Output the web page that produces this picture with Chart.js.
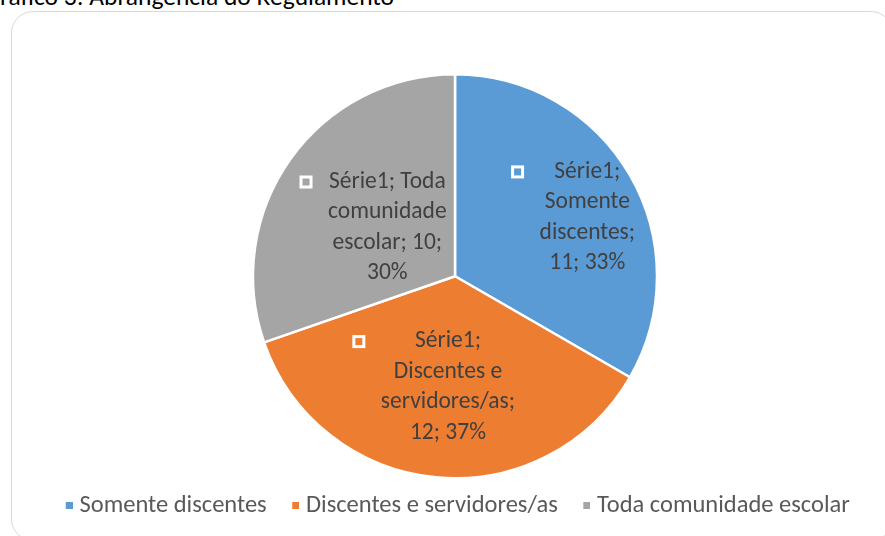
<!DOCTYPE html>
<html><head><meta charset="utf-8">
<script src="https://cdn.jsdelivr.net/npm/chart.js@4"></script>
<style>
html,body{margin:0;padding:0;background:#fff;width:885px;height:536px;overflow:hidden;position:relative}
#title{position:absolute;left:-16px;top:-16px;font-size:25.5px;line-height:26px;font-family:Carlito, Lato, sans-serif;color:#000;white-space:nowrap}
#frame{position:absolute;left:11px;top:11px;width:882px;height:530px;border:1.5px solid #d9d9d9;border-radius:22px;box-sizing:border-box}
#wrap{position:absolute;left:0;top:0;width:885px;height:536px}
</style></head><body>
<div id="title">Gráfico 3: Abrangência do Regulamento</div>
<div id="frame"></div>
<div id="wrap"><canvas id="c" width="885" height="536"></canvas></div>
<script>
const seriesName = 'Série1';
const categories = ['Somente discentes', 'Discentes e servidores/as', 'Toda comunidade escolar'];
const values = [11, 12, 10];
const percentLabels = ['33%', '37%', '30%'];
const colors = ['#5B9BD5', '#ED7D31', '#A5A5A5'];
// words per wrapped line of each data label
const wrapCounts = [[1, 1, 1, 2], [1, 2, 1, 2], [2, 1, 2, 1]];
// label block centre, as a fraction of the pie radius from the pie centre
const labelAnchors = [[0.655, -0.29], [-0.035, 0.55], [-0.335, -0.24]];

const FONT = 'Carlito, Lato, sans-serif';
const LABEL_SIZE = 23.5;

function labelLines(i) {
  const words = `${seriesName}; ${categories[i]}; ${values[i]}; ${percentLabels[i]}`.split(' ');
  const out = []; let k = 0;
  for (const n of wrapCounts[i]) { out.push(words.slice(k, k + n).join(' ')); k += n; }
  return out;
}

// legend key: small square placed close to its text
function legendKey(color) {
  const c = document.createElement('canvas');
  c.width = 18; c.height = 7;
  const g = c.getContext('2d');
  g.fillStyle = color;
  g.fillRect(11, 0, 7, 7);
  return c;
}
const legendKeys = colors.map(legendKey);

const dataLabelPlugin = {
  id: 'excelLabels',
  afterDatasetsDraw(chart) {
    const ctx = chart.ctx;
    const meta = chart.getDatasetMeta(0);
    ctx.save();
    ctx.font = `${LABEL_SIZE}px ${FONT}`;
    ctx.textAlign = 'center';
    ctx.textBaseline = 'middle';
    const lh = 30.5;
    meta.data.forEach((arc, i) => {
      const lines = labelLines(i);
      const R = arc.outerRadius;
      const cx = arc.x + labelAnchors[i][0] * R;
      const cy = arc.y + labelAnchors[i][1] * R;
      const top = cy - (lines.length - 1) * lh / 2;
      let maxW = 0;
      lines.forEach(l => { maxW = Math.max(maxW, ctx.measureText(l).width); });
      ctx.fillStyle = '#404040';
      lines.forEach((l, j) => ctx.fillText(l, cx, top + j * lh));
      const mx = cx - maxW / 2 - 22, my = top;
      ctx.fillStyle = '#ffffff';
      ctx.fillRect(mx - 6.5, my - 6.5, 13, 13);
      ctx.fillStyle = colors[i];
      ctx.fillRect(mx - 3.5, my - 3.5, 7, 7);
    });
    ctx.restore();
  }
};

new Chart(document.getElementById('c'), {
  type: 'pie',
  data: {
    labels: categories,
    datasets: [{
      data: values,
      backgroundColor: colors,
      borderColor: '#ffffff',
      borderWidth: 2.5
    }]
  },
  options: {
    responsive: false,
    devicePixelRatio: 1,
    animation: false,
    radius: 202,
    layout: { padding: { top: 79, bottom: 8, left: 25, right: 0 } },
    plugins: {
      tooltip: { enabled: false },
      legend: {
        position: 'bottom',
        labels: {
          color: '#595959',
          font: { size: 24.5, family: FONT },
          usePointStyle: true,
          pointStyleWidth: 7,
          boxHeight: 7,
          padding: 20,
          generateLabels(chart) {
            return categories.map((t, i) => ({
              text: t,
              fillStyle: colors[i],
              strokeStyle: colors[i],
              fontColor: '#595959',
              lineWidth: 0,
              pointStyle: legendKeys[i],
              hidden: false,
              index: i,
              datasetIndex: 0
            }));
          }
        }
      }
    }
  },
  plugins: [dataLabelPlugin]
});
</script>
</body></html>
